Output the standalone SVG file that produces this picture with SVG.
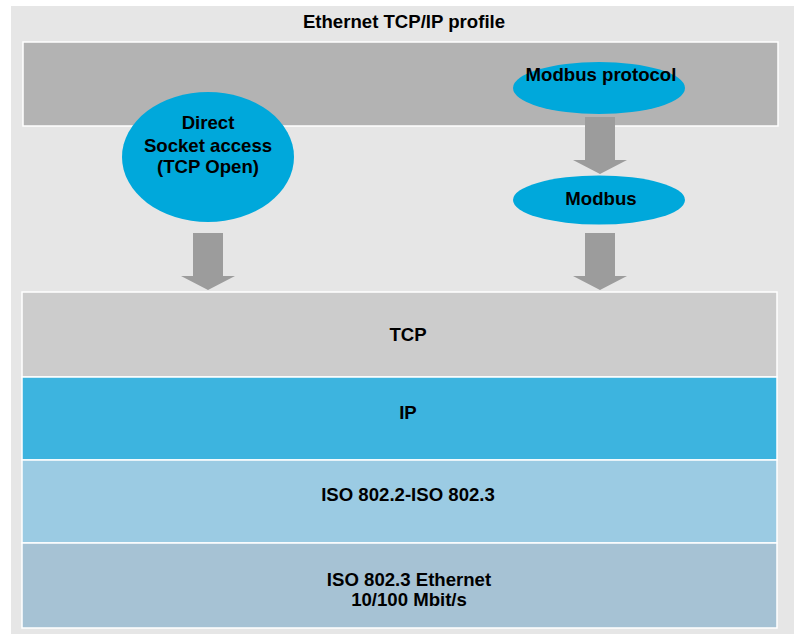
<svg xmlns="http://www.w3.org/2000/svg" width="794" height="634" viewBox="0 0 794 634">
<style>
text{font-family:"Liberation Sans",Arial,sans-serif;font-weight:bold;font-size:18.6px;fill:#000;text-anchor:middle}
.layer{stroke:#ffffff;stroke-width:1.5}
.ell{fill:#00a8db}
.arrow{fill:#9c9c9c}
</style>
<defs>
<path id="arr" d="M-15,0 H15 V43 H27 L0,57 L-27,43 H-15 Z"/>
</defs>
<rect x="0" y="0" width="794" height="634" fill="#ffffff"/>
<rect x="11" y="6" width="783" height="628" fill="#e6e6e6"/>
<text id="title" x="404" y="28">Ethernet TCP/IP profile</text>
<g id="application">
<rect class="layer" x="23" y="42" width="755" height="84" fill="#b3b3b3"/>
</g>
<g id="tcp">
<rect class="layer" x="22" y="292" width="755" height="85" fill="#cccccc"/>
<text x="408" y="341">TCP</text>
</g>
<g id="ip">
<rect class="layer" x="22" y="377" width="755" height="83" fill="#3db4df"/>
<text x="408" y="419">IP</text>
</g>
<g id="iso8022">
<rect class="layer" x="22" y="460" width="755" height="83" fill="#9bcbe3"/>
<text x="408" y="501">ISO 802.2-ISO 802.3</text>
</g>
<g id="ethernet">
<rect class="layer" x="22" y="543" width="755" height="85" fill="#a6c2d4"/>
<text x="409" y="586">ISO 802.3 Ethernet</text>
<text x="409" y="606">10/100 Mbit/s</text>
</g>
<g id="direct-socket">
<ellipse class="ell" cx="208" cy="157" rx="86" ry="65"/>
<text x="208" y="129">Direct</text>
<text x="208" y="152">Socket access</text>
<text x="208" y="173">(TCP Open)</text>
</g>
<g id="modbus-protocol">
<ellipse class="ell" cx="599" cy="88" rx="86" ry="26"/>
<text x="601" y="81">Modbus protocol</text>
</g>
<g id="modbus">
<ellipse class="ell" cx="599" cy="200" rx="86" ry="24.5"/>
<text x="601" y="205">Modbus</text>
</g>
<g id="connectors">
<use href="#arr" class="arrow" x="208" y="233"/>
<use href="#arr" class="arrow" x="600" y="117"/>
<use href="#arr" class="arrow" x="600" y="233"/>
</g>
</svg>
